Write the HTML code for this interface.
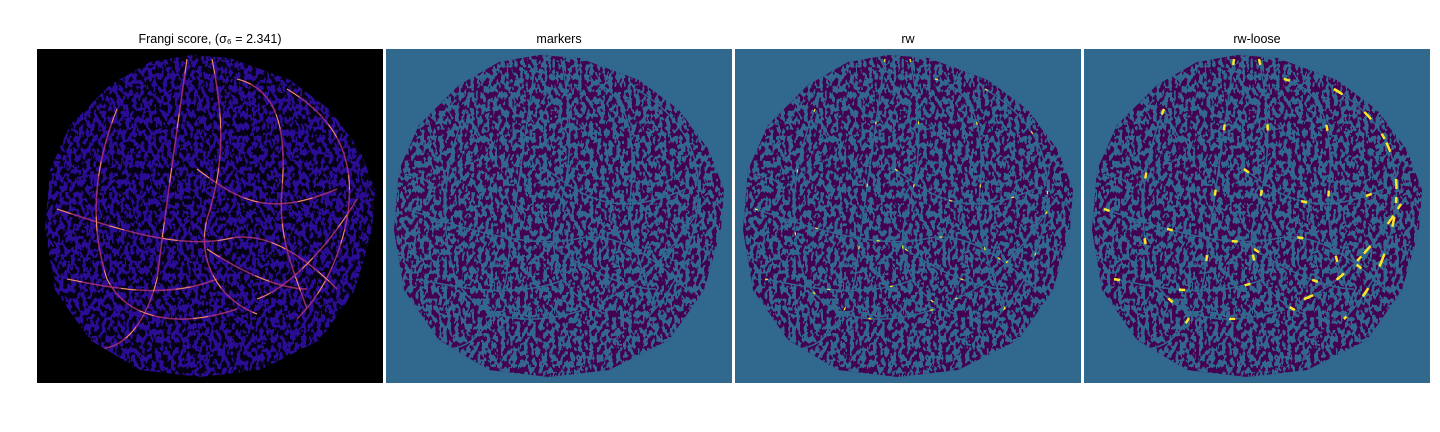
<!DOCTYPE html>
<html><head><meta charset="utf-8">
<style>
body{margin:0;background:#fff;width:1440px;height:432px;overflow:hidden;font-family:"Liberation Sans","DejaVu Sans",sans-serif}
svg{display:block}
</style></head>
<body>
<svg width="1440" height="432" viewBox="0 0 1440 432" xmlns="http://www.w3.org/2000/svg">
<defs>
  <clipPath id="disc">
    <path d="M153,6 L193,9 L253,31 L293,61 L323,101 L338,141 L335,181 L318,241 L283,291 L223,321 L163,328 L103,321 L53,291 L18,241 L8,181 L13,121 L33,76 L73,36 L113,13 Z"/>
  </clipPath>
  <filter id="texT" x="0" y="0" width="100%" height="100%">
    <feTurbulence type="fractalNoise" baseFrequency="0.26 0.16" numOctaves="2" seed="4" result="n"/>
    <feColorMatrix in="n" type="matrix" values="0 0 0 0 0  0 0 0 0 0  0 0 0 0 0  1 0 0 0 0" result="a"/>
    <feComponentTransfer in="a" result="b"><feFuncA type="discrete" tableValues="0 0 0 0 0 1 1 1 1 1"/></feComponentTransfer>
    <feFlood flood-color="#31688e"/>
    <feComposite in2="b" operator="in"/>
  </filter>
  <filter id="texB" x="0" y="0" width="100%" height="100%">
    <feTurbulence type="fractalNoise" baseFrequency="0.26 0.16" numOctaves="2" seed="7" result="n"/>
    <feColorMatrix in="n" type="matrix" values="0 0 0 0 0  0 0 0 0 0  0 0 0 0 0  1 0 0 0 0" result="a"/>
    <feComponentTransfer in="a" result="b"><feFuncA type="discrete" tableValues="0 0 0 0 0 1 1 1 1 1"/></feComponentTransfer>
    <feFlood flood-color="#2a0c94"/>
    <feComposite in2="b" operator="in"/>
  </filter>
  <g id="vessels" fill="none">
    <path d="M150,10 C140,80 130,150 120,230 C110,270 90,300 60,300"/>
    <path d="M175,10 C185,60 190,110 170,170 C160,210 180,250 220,265"/>
    <path d="M200,30 C240,40 250,80 245,140 C240,190 260,230 270,260"/>
    <path d="M250,40 C300,70 320,110 310,170 C300,220 280,250 260,270"/>
    <path d="M80,60 C60,110 50,170 70,230 C90,270 140,280 200,260"/>
    <path d="M20,160 C80,180 140,200 190,190 C230,180 270,210 300,240"/>
    <path d="M30,230 C80,240 130,250 180,230"/>
    <path d="M170,200 C200,220 240,240 270,240"/>
    <path d="M220,250 C250,240 290,200 320,150"/>
    <path d="M160,120 C200,150 230,170 300,140"/>
  </g>
  <g id="loose" fill="none">
    <path d="M250,40 C300,70 320,110 310,170 C300,220 280,250 260,270"/>
    <path d="M220,250 C250,240 290,200 320,150"/>
  </g>
</defs>

<text x="210" y="43" font-size="12.5" text-anchor="middle" fill="#000">Frangi score, (σ₆ = 2.341)</text>
<g transform="translate(37,49)">
  <rect width="346" height="334" fill="#000"/>
  <g clip-path="url(#disc)">
    <rect width="346" height="334" fill="#050214"/>
    <rect width="346" height="334" filter="url(#texB)"/>
    <use href="#vessels" stroke="#b5367a" stroke-width="1.5" stroke-opacity="0.8"/>
    <use href="#vessels" stroke="#f7a35c" stroke-width="0.8" stroke-dasharray="15 40"/>
  </g>
</g>

<text x="559" y="43" font-size="12.5" text-anchor="middle" fill="#000">markers</text>
<g transform="translate(386,49)">
  <rect width="346" height="334" fill="#31688e"/>
  <g clip-path="url(#disc)">
    <rect width="346" height="334" fill="#440154"/>
    <rect width="346" height="334" filter="url(#texT)"/>
    <use href="#vessels" stroke="#31688e" stroke-width="1.5"/>
  </g>
</g>

<text x="908" y="43" font-size="12.5" text-anchor="middle" fill="#000">rw</text>
<g transform="translate(735,49)">
  <rect width="346" height="334" fill="#31688e"/>
  <g clip-path="url(#disc)">
    <rect width="346" height="334" fill="#440154"/>
    <rect width="346" height="334" filter="url(#texT)"/>
    <use href="#vessels" stroke="#31688e" stroke-width="1.5"/>
    <use href="#vessels" stroke="#fde725" stroke-width="1.2" stroke-dasharray="3 60"/>
  </g>
</g>

<text x="1257" y="43" font-size="12.5" text-anchor="middle" fill="#000">rw-loose</text>
<g transform="translate(1084,49)">
  <rect width="346" height="334" fill="#31688e"/>
  <g clip-path="url(#disc)">
    <rect width="346" height="334" fill="#440154"/>
    <rect width="346" height="334" filter="url(#texT)"/>
    <use href="#vessels" stroke="#31688e" stroke-width="1.5"/>
    <use href="#vessels" stroke="#fde725" stroke-width="2.5" stroke-dasharray="6 60"/>
    <use href="#loose" stroke="#fde725" stroke-width="2.5" stroke-dasharray="10 28"/>
  </g>
</g>
</svg>
</body></html>
